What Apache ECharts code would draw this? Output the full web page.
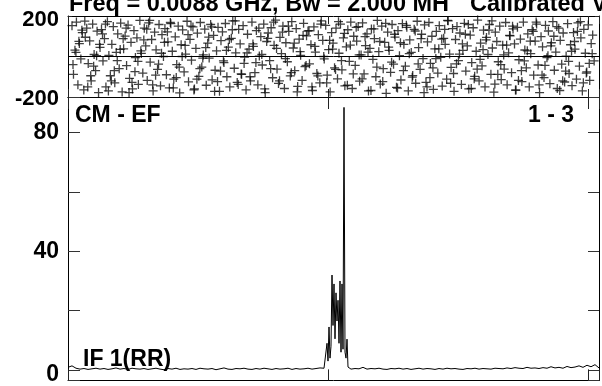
<!DOCTYPE html>
<html>
<head>
  <meta charset="utf-8" />
  <script src="https://cdn.jsdelivr.net/npm/echarts@6/dist/echarts.min.js"></script>
  <style>
    html, body { margin: 0; padding: 0; background: #fff; }
    #main { width: 602px; height: 386px; }
  </style>
  <title>CM - EF</title>
</head>
<body>
  <div id="main"></div>
  <script>
    // phase (deg), two interleaved runs of samples
    var phaseStart = 8, phaseStep = 2.95;
    var phase = [
      152, -88, 31, 170, -140, 64, -12, 118, -165, 95, 140, -35, 77, -120, 160, 10, -70, 125, -178, 45,
      133, -22, 88, -150, 172, 5, -95, 60, 148, -130, 20, 112, -60, 165, -175, 38, 101, -45, 155, -108,
      70, -160, 128, -5, 92, -138, 178, 15, -82, 140, 52, -118, 166, -28, 84, -170, 120, 33, -64, 158,
      -145, 108, 0, 138, -90, 72, -155, 162, 26, -112, 97, -40, 150, -180, 58, 131, -76, 12, 174, -125,
      85, -18, 146, -160, 40, 115, -98, 168, -52, 8, 135, -142, 66, -8, 158, -115, 104, -68, 28, 144,
      -172, 78, 122, -30, 163, -100, 46, -150, 90, 176, -58, 18, -128, 134, 62, -88, 152, -3, -165, 110,
      36, -120, 170, 50, -80, 128, -140, 2, 98, -42, 160, -178, 74, 116, -20, 142, -105, 55, 180, -62,
      -133, 94, 14, 150, -158, 68, -26, 124, -96, 172, 42, -70, 138, -148, 86, 6, -118, 164, -50, 102,
      126, -36, 58, -168, 146, 22, -84, 108, -130, 176, 80, -12, 154, -92, 34, -175, 118, 66, -56, 140,
      -110, 16, 160, -66, 92, -145, 48, 132, -24, 170, -158, 100, -44, 76, 148, -122, 8, 166, -86, 54,
      112, -170, 40, 136, -14, 88, -100, 178, 24, -136, 150, -60, 70, -182, 120, 30, -78, 158, -38, 96,
      -152, 128, 4, -116, 162, 60, -48, 144, -170, 82, 20, -94, 134, -132, 174, 44, -64, 110, -10, 156,
      -128, 72, 168, -34, 100, -162, 38, 124, -82, 152, -4, -146, 90, 60, -112, 176, 12, -54, 138, -172,
      84, 148, -20, 116, -138, 30, 164, -72, 52, -160, 106, -30, 142, -98, 26, 180, -120, 66, -46, 130,
      -150, 94, 10, 158, -88, 42, -176, 120, 74, -26, 150, -114, 56, -62, 168, -140, 18, 102, -80, 136,
      62, -166, 144, -16, 86, -124, 170, 32, -56, 112, -150, 14, 132, -92, 76, 160, -42, -178, 98, 48,
      -104, 154, -6, 126, -134, 68, 172, -68, 22, -158, 140, 80, -38, 116, -126, 2, 162, -84, 58, -144,
      118, 36, -112, 166, -48, 92, -170, 134, 16, -76, 156, -118, 64, 106, -22
    ];
    var phase2Start = 10, phase2Step = 5.9;
    var phase2 = [
      -40, 20, 75, 130, 175, -150, -95, -48, 4, 60, 112, 160, -170, -120, -70, -20, 35, 88, 140, -178,
      -128, -75, -24, 28, 82, 135, 178, -140, -92, -38, 16, 70, 122, 168, -155, -104, -52, 0, 55, 108,
      150, -165, -112, -60, -8, 44, 96, 146, -172, -124, -72, -22, 30, 84, 132, 176, -138, -86, -34, 18,
      -100, 62, -30, 140, 10, -160, 90, -60, 170, 40, -120, 120, -10, 150, -80, 66, -175, 24, 104, -44,
      128, -150, 50, -96, 160, 0, -130, 80, 36, -64, 172, -20, 114, -142, 56, -86, 144, 8, -110, 98,
      22, -168, 136, -52, 74, -124, 164, 46, -28, 110, -156, 68, -70, 154, 14, -102, 126, -36, 88, -178,
      -150, -104, -56, -10, 38, 86, 134, 178, -132, -84, -36, 12, 62, 110, 158, -158, -110, -62, -14, 34,
      82, 130, 176, -136, -88, -40, 8, 56, 104, 150, -166, -118, -70, -22, 28, 76, 124, 170, -140, -92,
      -44, 4, 52, 100, 148, -168, -120, -72, -24, 26, 74, 124, 172, -130, -82, -34, 14
    ];

    // amplitude, three pieces: baseline left, the line itself, baseline right
    var ampLeftStart = 0, ampLeftStep = 8;
    var ampLeft = [
      0.9, 1.4, 0.6, 0.3, 0.5, 0.2, 0.4, 0.6, 0.3, 0.5, 0.2, 0.4, 0.7, 0.3, 0.5, 0.2, 0.6, 0.4, 0.3, 0.5,
      0.2, 0.4, 0.6, 0.3, 0.1, 0.5, 0.3, 0.6, 0.2, 0.4, 0.3, 0.5, 0.2, 0.6, 0.4, 0.3, 0.5, 0.1, 0.4, 0.7,
      0.3, 0.2, 0.5, 0.4, 0.6, 0.3, 0.2, 0.5, 0.3, 0.6, 0.4, 0.2, 0.5, 0.3, 0.4, 0.6, 0.2, 0.5, 0.3, 0.4,
      0.6, 0.3, 0.5, 0.7, 0.6
    ];
    var ampPeakStart = 514, ampPeakStep = 2;
    var ampPeak = [
      0.5, 0.8, 9, 3, 14.5, 4, 8, 32, 15, 29, 10.5, 26, 16.5, 23.5, 9, 30, 6, 29, 7, 88.5,
      6, 4, 10.4, 1, 0.4, 0.6
    ];
    var ampRightStart = 566, ampRightStep = 8;
    var ampRight = [
      0.3, 0.5, 0.4, 0.9, 0.3, 0.5, 0.4, 0.6, 0.3, 0.2, 0.5, 0.4, 0.6, 0.3, 0.5, 0.2, 0.4, 0.6, 0.3, 0.5,
      0.4, 0.2, 0.5, 0.3, 0.6, 0.4, 0.5, 0.3, 0.2, 0.5, 0.4, 0.6, 0.3, 0.5, 0.4, 0.3, 0.6, 0.5, 0.4, 0.7,
      0.5, 0.8, 0.6, 0.5, 0.9, 0.6, 0.7, 0.5, 0.8, 0.6, 1.1, 0.7, 0.9, 0.6, 1.2, 0.8, 1.0, 1.4, 0.9, 1.6,
      1.1, 1.8, 0.7
    ];

    var chanMax = 1062;
    var chanTick = 520;
    var phaseLabels = [200, -200];
    var ampLabels = [0, 40, 80];

    var titleText = 'Freq = 0.0088 GHz, Bw = 2.000 MH';
    var titleText2 = 'Calibrated V';
    var baseText = 'CM - EF';
    var scanText = '1 - 3';
    var ifText = 'IF 1(RR)';

    var phaseData = phase.map(function (v, i) { return [phaseStart + i * phaseStep, v]; });
    phase2.forEach(function (v, i) { phaseData.push([phase2Start + i * phase2Step, v]); });
    var ampData = [];
    ampLeft.forEach(function (v, i) { ampData.push([ampLeftStart + i * ampLeftStep, v]); });
    ampPeak.forEach(function (v, i) { ampData.push([ampPeakStart + i * ampPeakStep, v]); });
    ampRight.forEach(function (v, i) { ampData.push([ampRightStart + i * ampRightStep, v]); });

    var font = 'Liberation Sans, Arial, Helvetica, sans-serif';
    var big = { fontFamily: font, fontWeight: 'bold', fontSize: 23, fill: '#000' };
    var lbl = { fontFamily: font, fontWeight: 'bold', color: '#000' };

    function xAx(grid, pos, len) {
      return {
        type: 'value', gridIndex: grid, position: pos, min: 0, max: chanMax, interval: chanTick,
        axisLine: { show: true, onZero: false, lineStyle: { color: '#000', width: 1 } },
        axisTick: { show: true, inside: true, length: len, lineStyle: { color: '#222' } },
        axisLabel: { show: false },
        splitLine: { show: false }
      };
    }

    var myChart = echarts.init(document.getElementById('main'), null, { renderer: 'canvas' });

    option = {
      backgroundColor: '#fff',
      animation: false,
      grid: [
        { left: 68, top: 16, width: 531, height: 81 },
        { left: 68, top: 97, width: 531, height: 288 }
      ],
      xAxis: [
        xAx(0, 'bottom', 8),
        xAx(0, 'top', 8),
        xAx(1, 'bottom', 11),
        xAx(1, 'top', 12)
      ],
      yAxis: [
        {
          type: 'value', gridIndex: 0, position: 'left', min: -200, max: 200, interval: 200,
          axisLine: { show: true, onZero: false, lineStyle: { color: '#000' } },
          axisTick: { show: true, inside: true, length: 4, lineStyle: { color: '#222' } },
          axisLabel: {
            margin: 9, fontFamily: font, fontWeight: 'bold', fontSize: 22, color: '#000',
            formatter: function (v) {
              if (v === phaseLabels[0]) return '{t|' + v + '}';
              if (v === phaseLabels[1]) return '{b|' + v + '}';
              return '';
            },
            rich: {
              t: Object.assign({ fontSize: 22, padding: [8, 0, 0, 0] }, lbl),
              b: Object.assign({ fontSize: 22, padding: [4, 0, 0, 0] }, lbl)
            }
          },
          splitLine: { show: false }
        },
        {
          type: 'value', gridIndex: 0, position: 'right', min: -200, max: 200, interval: 200,
          axisLine: { show: true, onZero: false, lineStyle: { color: '#000' } },
          axisTick: { show: true, inside: true, length: 4, lineStyle: { color: '#222' } },
          axisLabel: { show: false },
          splitLine: { show: false }
        },
        {
          // no interval here: ticks fall on multiples of 20 inside [-3.5, 92]
          type: 'value', gridIndex: 1, position: 'left', min: -3.5, max: 92, splitNumber: 5,
          axisLine: { show: true, onZero: false, lineStyle: { color: '#000' } },
          axisTick: { show: true, inside: true, length: 12, lineStyle: { color: '#333' } },
          axisLabel: {
            margin: 9, fontFamily: font, fontWeight: 'bold', fontSize: 23, color: '#000',
            showMinLabel: true, showMaxLabel: true,
            formatter: function (v) {
              if (ampLabels.indexOf(v) < 0) return '';
              return v === 0 ? '\n0' : String(v);
            },
            lineHeight: 9
          },
          splitLine: { show: false }
        },
        {
          type: 'value', gridIndex: 1, position: 'right', min: -3.5, max: 92, splitNumber: 5,
          axisLine: { show: true, onZero: false, lineStyle: { color: '#000' } },
          axisTick: { show: true, inside: true, length: 11, lineStyle: { color: '#333' } },
          axisLabel: { show: false },
          splitLine: { show: false }
        }
      ],
      graphic: [
        { type: 'text', x: 69, y: 5, style: Object.assign({ text: titleText, verticalAlign: 'middle' }, big, { fontSize: 23.5 }) },
        { type: 'text', x: 470, y: 5, style: Object.assign({ text: titleText2, verticalAlign: 'middle' }, big, { fontSize: 23.5 }) },
        { type: 'text', x: 75, y: 116, style: Object.assign({ text: baseText, verticalAlign: 'middle' }, big) },
        { type: 'text', x: 528, y: 116, style: Object.assign({ text: scanText, verticalAlign: 'middle' }, big) },
        { type: 'text', x: 83, y: 360, style: Object.assign({ text: ifText, verticalAlign: 'middle' }, big) }
      ],
      series: [
        {
          name: 'phase',
          type: 'scatter',
          xAxisIndex: 0,
          yAxisIndex: 0,
          symbol: 'path://M0,4H8M4,0V8',
          symbolSize: 9,
          itemStyle: { color: 'transparent', borderColor: '#000', borderWidth: 1.3, opacity: 0.75 },
          data: phaseData,
          markLine: {
            silent: true,
            symbol: 'none',
            label: { show: false },
            lineStyle: { color: '#000', width: 1, type: 'solid' },
            data: [{ yAxis: 0 }]
          }
        },
        {
          name: 'amp',
          type: 'line',
          xAxisIndex: 2,
          yAxisIndex: 2,
          showSymbol: false,
          symbol: 'none',
          lineStyle: { color: '#000', width: 1 },
          data: ampData
        }
      ]
    };
    myChart.setOption(option);
  </script>
</body>
</html>
